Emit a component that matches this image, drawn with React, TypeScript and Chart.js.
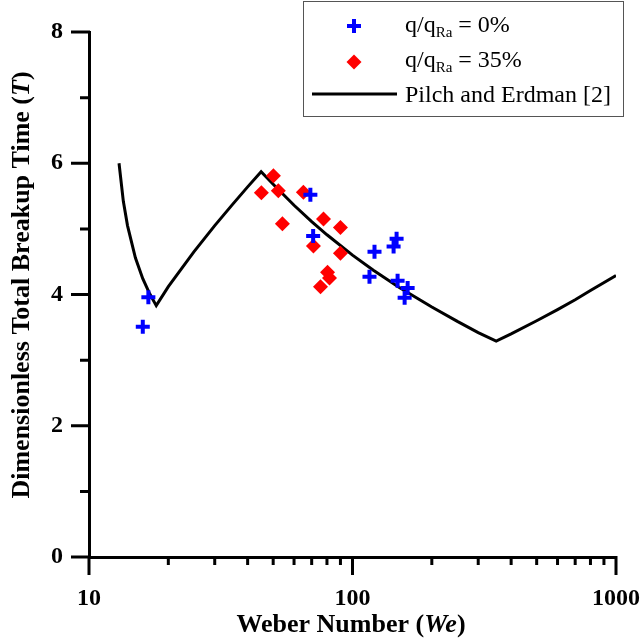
import { useEffect, useRef } from 'react';
import { Chart, registerables } from 'chart.js';

Chart.register(...registerables);

// q/qRa = 0%
const weberCase0 = [16.8, 16.0, 69.2, 70.9, 121.2, 116.0, 147.0, 143.2, 148.3, 161.9, 157.7];
const timeCase0 = [3.96, 3.51, 5.52, 4.89, 4.65, 4.27, 4.85, 4.73, 4.21, 4.10, 3.95];
// q/qRa = 35%
const weberCase35 = [50.1, 45.1, 52.3, 65.1, 54.2, 77.6, 90.0, 71.1, 90.0, 80.4, 81.8, 75.6];
const timeCase35 = [5.81, 5.55, 5.58, 5.56, 5.08, 5.15, 5.02, 4.74, 4.63, 4.34, 4.25, 4.12];
// Pilch and Erdman [2]
const weberPilch = [13, 13.5, 14, 15, 16, 17, 18, 20, 25, 30, 35, 40, 45, 50, 60, 70, 80, 100, 120, 150, 200, 250, 300, 351, 400, 500, 600, 700, 800, 1000];
const timePilch = [6.0, 5.42, 5.05, 4.56, 4.24, 4.01, 3.83, 4.12, 4.65, 5.05, 5.37, 5.64, 5.87, 5.68, 5.36, 5.11, 4.91, 4.6, 4.37, 4.11, 3.81, 3.59, 3.42, 3.29, 3.4, 3.6, 3.77, 3.92, 4.06, 4.29];

const xMajorTicks = [10, 100, 1000];
const xMinorTicks = [20, 30, 40, 50, 60, 70, 80, 90, 200, 300, 400, 500, 600, 700, 800, 900];
const yMajorTicks = [0, 2, 4, 6, 8];
const yMinorTicks = [1, 3, 5, 7];

const legendMain = ['q/q', 'q/q', 'Pilch and Erdman [2]'];
const legendSub = ['Ra', 'Ra', ''];
const legendTail = [' = 0%', ' = 35%', ''];

const SERIF = "'Liberation Serif', 'Times New Roman', serif";

function drawSegments(ctx: CanvasRenderingContext2D, segs: [string, string][], cx: number, cy: number, rot: number) {
  ctx.save();
  ctx.translate(cx, cy);
  ctx.rotate(rot);
  let total = 0;
  const widths = segs.map(([t, f]) => { ctx.font = f; const w = ctx.measureText(t).width; total += w; return w; });
  let x = -total / 2;
  ctx.textBaseline = 'alphabetic';
  ctx.textAlign = 'left';
  ctx.fillStyle = '#000';
  segs.forEach(([t, f], i) => { ctx.font = f; ctx.fillText(t, x, 0); x += widths[i]; });
  ctx.restore();
}

const decor = {
  id: 'decor',
  afterDraw(chart: any) {
    const ctx: CanvasRenderingContext2D = chart.ctx;
    const xs = chart.scales.x;
    const ys = chart.scales.y;
    const { left, bottom } = chart.chartArea;
    ctx.save();
    ctx.strokeStyle = '#000';
    ctx.lineWidth = 3;
    ctx.lineCap = 'butt';
    ctx.beginPath();
    yMajorTicks.forEach((v) => { const y = ys.getPixelForValue(v); ctx.moveTo(left + 1, y); ctx.lineTo(left - 18, y); });
    yMinorTicks.forEach((v) => { const y = ys.getPixelForValue(v); ctx.moveTo(left + 1, y); ctx.lineTo(left - 9, y); });
    xMajorTicks.forEach((v) => { const x = xs.getPixelForValue(v); ctx.moveTo(x, bottom - 1); ctx.lineTo(x, bottom + 18); });
    xMinorTicks.forEach((v) => { const x = xs.getPixelForValue(v); ctx.moveTo(x, bottom - 1); ctx.lineTo(x, bottom + 8); });
    ctx.stroke();

    // axis titles
    const bold = `bold 26px ${SERIF}`;
    const boldIt = `italic bold 26px ${SERIF}`;
    drawSegments(ctx, [['Weber Number (', bold], ['We', boldIt], [')', bold]], 351, 632, 0);
    drawSegments(ctx, [['Dimensionless Total Breakup Time (', bold], ['T', boldIt], [')', bold]], 29, 285, -Math.PI / 2);

    // legend
    ctx.fillStyle = '#fff';
    ctx.fillRect(303.5, 1.5, 320, 115);
    ctx.strokeStyle = '#555';
    ctx.lineWidth = 1;
    ctx.strokeRect(303.5, 1.5, 320, 115);
    // plus
    ctx.strokeStyle = '#0000ff';
    ctx.lineWidth = 4;
    ctx.beginPath();
    ctx.moveTo(347, 26); ctx.lineTo(361, 26);
    ctx.moveTo(354, 19); ctx.lineTo(354, 33);
    ctx.stroke();
    // diamond
    ctx.fillStyle = '#ff0000';
    ctx.beginPath();
    ctx.moveTo(354, 54.5); ctx.lineTo(361.5, 62); ctx.lineTo(354, 69.5); ctx.lineTo(346.5, 62); ctx.closePath();
    ctx.fill();
    // line
    ctx.strokeStyle = '#000';
    ctx.lineWidth = 3;
    ctx.beginPath();
    ctx.moveTo(312, 94); ctx.lineTo(397, 94);
    ctx.stroke();

    const baselines = [32, 67, 102];
    ctx.fillStyle = '#000';
    ctx.textAlign = 'left';
    ctx.textBaseline = 'alphabetic';
    legendMain.forEach((m, i) => {
      let x = 405;
      ctx.font = `24px ${SERIF}`;
      ctx.fillText(m, x, baselines[i]);
      x += ctx.measureText(m).width;
      if (legendSub[i]) {
        ctx.font = `15px ${SERIF}`;
        ctx.fillText(legendSub[i], x, baselines[i] + 5);
        x += ctx.measureText(legendSub[i]).width;
      }
      if (legendTail[i]) {
        ctx.font = `24px ${SERIF}`;
        ctx.fillText(legendTail[i], x, baselines[i]);
      }
    });
    ctx.restore();
  },
};

export default function App() {
  const ref = useRef<HTMLCanvasElement>(null);
  useEffect(() => {
    if (!ref.current) return;
    const pts = (xs: number[], ys: number[]) => xs.map((x, i) => ({ x, y: ys[i] }));
    const chart = new Chart(ref.current, {
      type: 'scatter',
      data: {
        datasets: [
          {
            label: 'q/qRa = 0%',
            data: pts(weberCase0, timeCase0),
            pointStyle: 'cross',
            pointRadius: 7,
            pointBorderWidth: 4,
            borderColor: '#0000ff',
            backgroundColor: '#0000ff',
            pointHoverRadius: 7,
          },
          {
            label: 'q/qRa = 35%',
            data: pts(weberCase35, timeCase35),
            pointStyle: 'rectRot',
            pointRadius: 7.5,
            pointBorderWidth: 0,
            borderColor: '#ff0000',
            backgroundColor: '#ff0000',
          },
          {
            label: 'Pilch and Erdman [2]',
            data: pts(weberPilch, timePilch),
            showLine: true,
            pointRadius: 0,
            borderColor: '#000',
            borderWidth: 3,
            tension: 0,
          },
        ],
      },
      options: {
        animation: false,
        responsive: false,
        devicePixelRatio: 1,
        layout: { padding: { top: 32, right: 24, left: 0, bottom: 0 } },
        plugins: { legend: { display: false }, tooltip: { enabled: false } },
        scales: {
          x: {
            type: 'logarithmic',
            min: 10,
            max: 1000,
            grid: { display: false, drawTicks: false },
            border: { display: true, color: '#000', width: 3 },
            afterBuildTicks: (s: any) => { s.ticks = xMajorTicks.map((v) => ({ value: v })); },
            afterFit: (s: any) => { s.height = 83; s.paddingLeft = 0; s.paddingRight = 0; },
            ticks: {
              autoSkip: false,
              maxRotation: 0,
              padding: 27,
              color: '#000',
              font: { family: SERIF, size: 24, weight: 'bold' },
              callback: (v: any) => String(v),
            },
          },
          y: {
            min: 0,
            max: 8,
            grid: { display: false, drawTicks: false },
            border: { display: true, color: '#000', width: 3 },
            afterBuildTicks: (s: any) => { s.ticks = yMajorTicks.map((v) => ({ value: v })); },
            afterFit: (s: any) => { s.width = 89; s.paddingTop = 0; s.paddingBottom = 0; },
            ticks: {
              padding: 26,
              color: '#000',
              font: { family: SERIF, size: 24, weight: 'bold' },
              callback: (v: any) => String(v),
            },
          },
        },
      },
      plugins: [decor],
    } as any);
    return () => chart.destroy();
  }, []);
  return (
    <div style={{ position: 'absolute', left: 0, top: 0, width: 640, height: 640 }}>
      <canvas ref={ref} width={640} height={640} />
    </div>
  );
}
